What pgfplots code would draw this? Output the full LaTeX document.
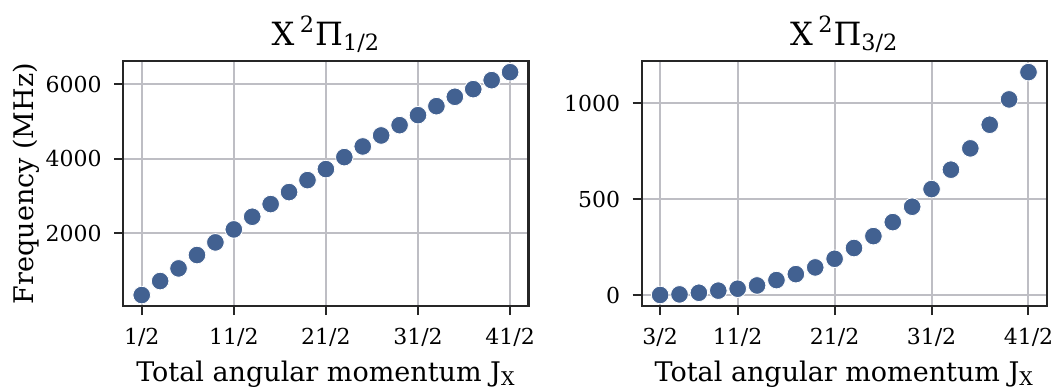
\documentclass[border=0pt]{standalone}
\usepackage{fontspec}
\setmainfont{DejaVu Serif}
\usepackage{pgfplots}
\pgfplotsset{compat=1.18}
\definecolor{mk}{RGB}{66,97,145}
\definecolor{gridc}{RGB}{190,190,196}
\definecolor{framec}{RGB}{38,38,38}

\pgfplotstableread{
x y
0.5 348
1.5 723
2.5 1062
3.5 1420
4.5 1759
5.5 2107
6.5 2446
7.5 2786
8.5 3107
9.5 3428
10.5 3723
11.5 4044
12.5 4330
13.5 4625
14.5 4901
15.5 5169
16.5 5410
17.5 5661
18.5 5866
19.5 6107
20.5 6321
}\tabA

\pgfplotstableread{
x y
1.5 0.5
2.5 3.5
3.5 12
4.5 23
5.5 33
6.5 50
7.5 78
8.5 109
9.5 144
10.5 189
11.5 245
12.5 307
13.5 380
14.5 460
15.5 552
16.5 653
17.5 764
18.5 887
19.5 1019
20.5 1161
}\tabB

\pgfplotsset{mystyle/.style={
  scale only axis, width=202.6bp, height=122.6bp,
  axis line style={framec, line width=1.2bp},
  grid=major, major grid style={gridc, line width=1bp},
  tick align=outside, major tick length=4.5bp,
  every tick/.style={framec, line width=1bp},
  xtick pos=bottom, ytick pos=left,
  ticklabel style={font=\fontsize{11bp}{13bp}\selectfont},
  xticklabel style={yshift=-3bp},
  yticklabel style={xshift=-2.8bp},
  /pgf/number format/assume math mode=true,
  /pgf/number format/1000 sep={},
  label style={font=\fontsize{13.5bp}{16bp}\selectfont},
  xlabel={Total angular momentum J\textsubscript{X}},
  xlabel style={at={(axis description cs:0.5,0)}, anchor=base, yshift=-37.7bp},
  title style={font=\fontsize{16bp}{19bp}\selectfont, at={(axis description cs:0.5,1)}, anchor=base, yshift=2bp},
}}

\begin{document}
\begin{tikzpicture}
\begin{axis}[mystyle, at={(61.65bp,41.4bp)}, anchor=south west,
  xmin=-0.5, xmax=21.5, ymin=49, ymax=6620,
  xtick={0.5,5.5,10.5,15.5,20.5}, xticklabels={1/2,11/2,21/2,31/2,41/2},
  ytick={2000,4000,6000},
  ylabel={Frequency (MHz)},
  ylabel style={at={(axis description cs:-0.2722,0.5)}, anchor=north, inner sep=0pt},
  title={X\,\textsuperscript{2}Π\textsubscript{1/2}},
]
\addplot[only marks, mark=*, mark size=4.4bp, mark options={fill=mk, draw=white, line width=0.4bp}] table[x=x,y=y] {\tabA};
\end{axis}
\begin{axis}[mystyle, at={(320.85bp,41.4bp)}, anchor=south west,
  xmin=0.55, xmax=21.45, ymin=-58, ymax=1219,
  xtick={1.5,5.5,10.5,15.5,20.5}, xticklabels={3/2,11/2,21/2,31/2,41/2},
  ytick={0,500,1000},
  title={X\,\textsuperscript{2}Π\textsubscript{3/2}},
]
\addplot[only marks, mark=*, mark size=4.4bp, mark options={fill=mk, draw=white, line width=0.4bp}] table[x=x,y=y] {\tabB};
\end{axis}
\pgfresetboundingbox
\path[use as bounding box] (0,0) rectangle (527.5bp,194.5bp);
\end{tikzpicture}
\end{document}
